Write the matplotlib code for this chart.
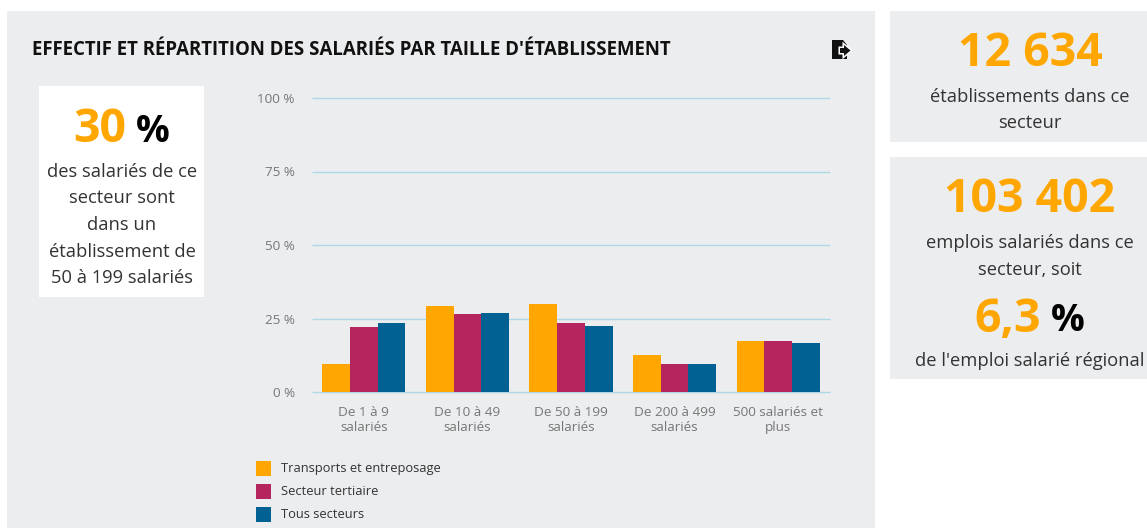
import matplotlib
matplotlib.use("Agg")
import matplotlib.pyplot as plt
from matplotlib.patches import Rectangle, Polygon

plt.rcParams['font.family'] = ['Open Sans', 'DejaVu Sans']

categories = ["De 1 à 9\nsalariés", "De 10 à 49\nsalariés", "De 50 à 199\nsalariés",
              "De 200 à 499\nsalariés", "500 salariés et\nplus"]
transports = [9.5, 29.2, 30, 12.5, 17.5]
tertiaire = [22, 26.5, 23.5, 9.5, 17.5]
tous = [23.5, 27, 22.5, 9.5, 16.5]
series_names = ["Transports et entreposage", "Secteur tertiaire", "Tous secteurs"]
yticks = [0, 25, 50, 75, 100]
ytick_labels = ["0 %", "25 %", "50 %", "75 %", "100 %"]
title = "EFFECTIF ET RÉPARTITION DES SALARIÉS PAR TAILLE D'ÉTABLISSEMENT"

ORANGE, CRIMSON, BLUE = "#FFA600", "#B5265F", "#006192"
PANEL = "#ECEDEF"
W, H = 1147, 528

fig = plt.figure(figsize=(W / 100, H / 100), dpi=100, facecolor="white")
bg = fig.add_axes([0, 0, 1, 1])
bg.set_xlim(0, W); bg.set_ylim(H, 0); bg.axis("off")

for x0, y0, x1, y1, c in [(7, 11, 875, 528, PANEL), (890, 11, 1147, 142, PANEL),
                          (890, 157, 1147, 379, PANEL), (39, 86, 204, 297, "white")]:
    bg.add_patch(Rectangle((x0, y0), x1 - x0, y1 - y0, fc=c, ec="none"))

def t(x, y, s, size, color="#333333", weight="normal", ha="center"):
    bg.text(x, y, s, fontsize=size, color=color, fontweight=weight, ha=ha, va="center")

BIG, PCT, BODY = 33.5, 27, 13.2

t(32, 50, title, 13.4, "#111111", "bold", "left")

# export icon
bg.add_patch(Polygon([(832, 40), (843, 40), (847, 45), (847, 59), (832, 59)], fc="#111111", ec="none", zorder=2))
arrow = [(840, 48), (844, 48), (844, 45), (850.5, 50.5), (844, 56), (844, 53), (840, 53)]
bg.add_patch(Polygon(arrow, fc="white", ec="white", lw=2.2, joinstyle="miter", zorder=3))
bg.add_patch(Polygon(arrow, fc="#111111", ec="none", zorder=4))

# callouts
t(100, 130, "30", BIG, ORANGE, "bold")
t(153, 132, "%", PCT, "black", "bold")
for y, s in zip([171, 197, 224, 251, 277],
                ["des salariés de ce", "secteur sont", "dans un", "établissement de", "50 à 199 salariés"]):
    t(122, y + 1, s, BODY)

t(1030, 54, "12 634", BIG, ORANGE, "bold")
t(1030, 97, "établissements dans ce", BODY)
t(1030, 123, "secteur", BODY)

t(1030, 200, "103 402", BIG, ORANGE, "bold")
t(1030, 243, "emplois salariés dans ce", BODY)
t(1030, 270, "secteur, soit", BODY)
t(1008, 319, "6,3", BIG, ORANGE, "bold")
t(1068, 321, "%", PCT, "black", "bold")
t(1030, 361, "de l'emploi salarié régional", BODY)

# chart
ax = fig.add_axes([312 / W, 1 - 392 / H, (830 - 312) / W, (392 - 98) / H])
ax.patch.set_alpha(0)
ax.set_xlim(-0.5, 4.5)
ax.set_ylim(0, 100)
bw = 0.268
for i, (vals, c, name) in enumerate(zip([transports, tertiaire, tous], [ORANGE, CRIMSON, BLUE], series_names)):
    ax.bar([k + (i - 1) * bw for k in range(5)], vals, bw, color=c, label=name, zorder=3)
ax.set_yticks(yticks, ytick_labels)
ax.set_xticks(range(5), categories)
ax.grid(axis="y", color="#ADD8E6", lw=1.0, zorder=1, clip_on=False, solid_capstyle="butt")
ax.set_axisbelow(True)
for s in ax.spines.values():
    s.set_visible(False)
ax.tick_params(axis="both", length=0, labelsize=9.7, labelcolor="#777777")
ax.tick_params(axis="y", pad=12.5)
ax.tick_params(axis="x", pad=10)
for lb in ax.get_xticklabels():
    lb.set_linespacing(1.22)

handles, labels = ax.get_legend_handles_labels()
for h, l, y in zip(handles, labels, [468, 491, 514]):
    bg.add_patch(Rectangle((256, y - 7.5), 15, 15, fc=h.patches[0].get_facecolor(), ec="none"))
    t(281, y + 0.5, l, 9.3, "#333333", "normal", "left")

fig.savefig("out.png", dpi=100)
